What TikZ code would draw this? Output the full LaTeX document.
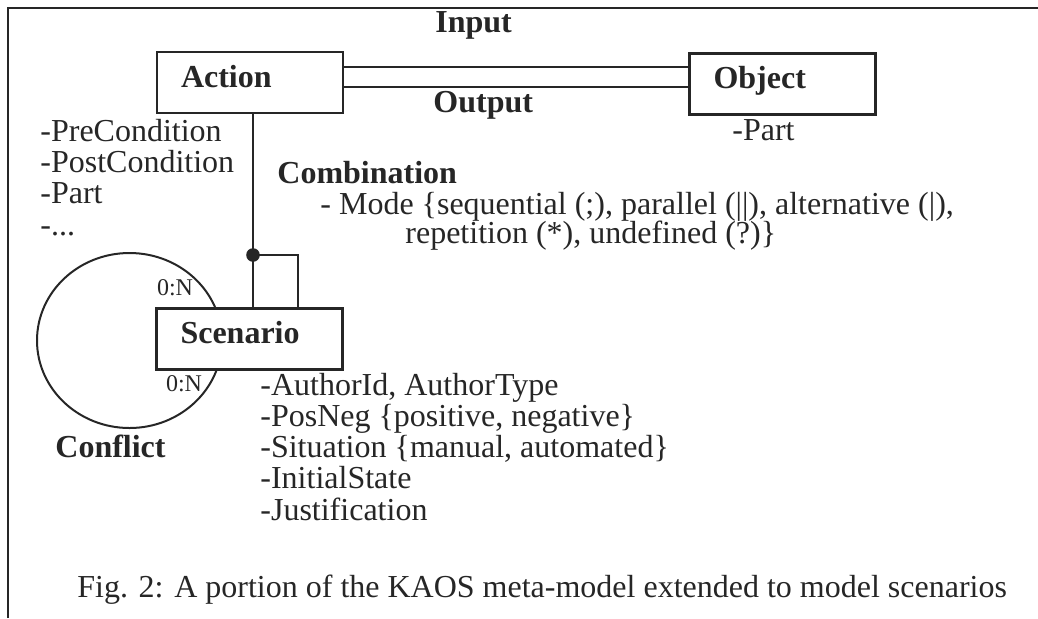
\documentclass[tikz,border=0pt]{standalone}
\usepackage{fontspec}
\setmainfont{Liberation Serif}
\begin{document}
\begin{tikzpicture}[x=0.5pt,y=-0.5pt,
	entity/.style={draw=black!85,line width=1.2pt,fill=white,text=black!85,font=\fontsize{16}{16}\selectfont\bfseries,inner xsep=12pt,text width=69pt,minimum height=30.5pt,text height=11pt,text depth=6.5pt,align=left},
	attr/.style={anchor=base west,align=left,text=black!85,inner sep=0pt,font=\fontsize{16}{15.6}\selectfont},
	lbl/.style={anchor=base west,text=black!85,inner sep=0pt,font=\fontsize{16}{16}\selectfont\bfseries},
	card/.style={text=black!85,inner sep=0pt,font=\fontsize{12}{12}\selectfont},
	link/.style={draw=black!85,line width=1pt}]
	\useasboundingbox (0,0) rectangle (1038,618);
	\draw[black!85,line width=1.3pt] (8,618) -- (8,8) -- (1038,8);
	% Conflict: vong lap tren Scenario
	\draw[link] (129.5,340.5) ellipse (46.25pt and 43.75pt);
	\node[entity] (action) at (250,82.5) {Action};
	\node[entity] (object) at (782.5,84) {Object};
	\node[entity] (scenario) at (249.5,339) {Scenario};
	\coordinate (in1) at ([yshift=7.75pt]action.east);
	\coordinate (out1) at ([yshift=-2.25pt]action.east);
	\draw[link] (in1) -- (in1 -| object.west);
	\draw[link] (out1) -- (out1 -| object.west);
	\coordinate (junction) at (253,255);
	\coordinate (loop) at (298,255);
	\draw[link] (action.south -| junction) -- (junction) -- (junction |- scenario.north);
	\draw[link] (junction) -- (loop) -- (loop |- scenario.north);
	\fill[black!85] (junction) circle (3.4pt);
	\node[lbl] (input) at (435,32) {Input};
	\node[lbl] (output) at (433,112) {Output};
	\node[attr] (objpart) at (732,140) {-Part};
	% base = last line of the list
	\node[attr] (actattr) at (40,235) {-PreCondition\\-PostCondition\\-Part\\-...};
	\node[lbl] (combi) at (277,183) {Combination};
	\node[attr] (mode) at (320,214) {- Mode \{sequential (;), parallel (||), alternative (|),};
	\node[attr] (modecont) at (405,243) {repetition (*), undefined (?)\}};
	\node[card] (cardtop) at (175,288) {0:N};
	\node[card] (cardbot) at (184,384) {0:N};
	\node[lbl] (conflict) at (55,457) {Conflict};
	\node[attr] (scenattr) at (260,520) {-AuthorId, AuthorType\\-PosNeg \{positive, negative\}\\-Situation \{manual, automated\}\\-InitialState\\-Justification};
	\node[attr] (caption) at (77,597) {Fig. 2: A portion of the KAOS meta-model extended to model scenarios};
\end{tikzpicture}
\end{document}
